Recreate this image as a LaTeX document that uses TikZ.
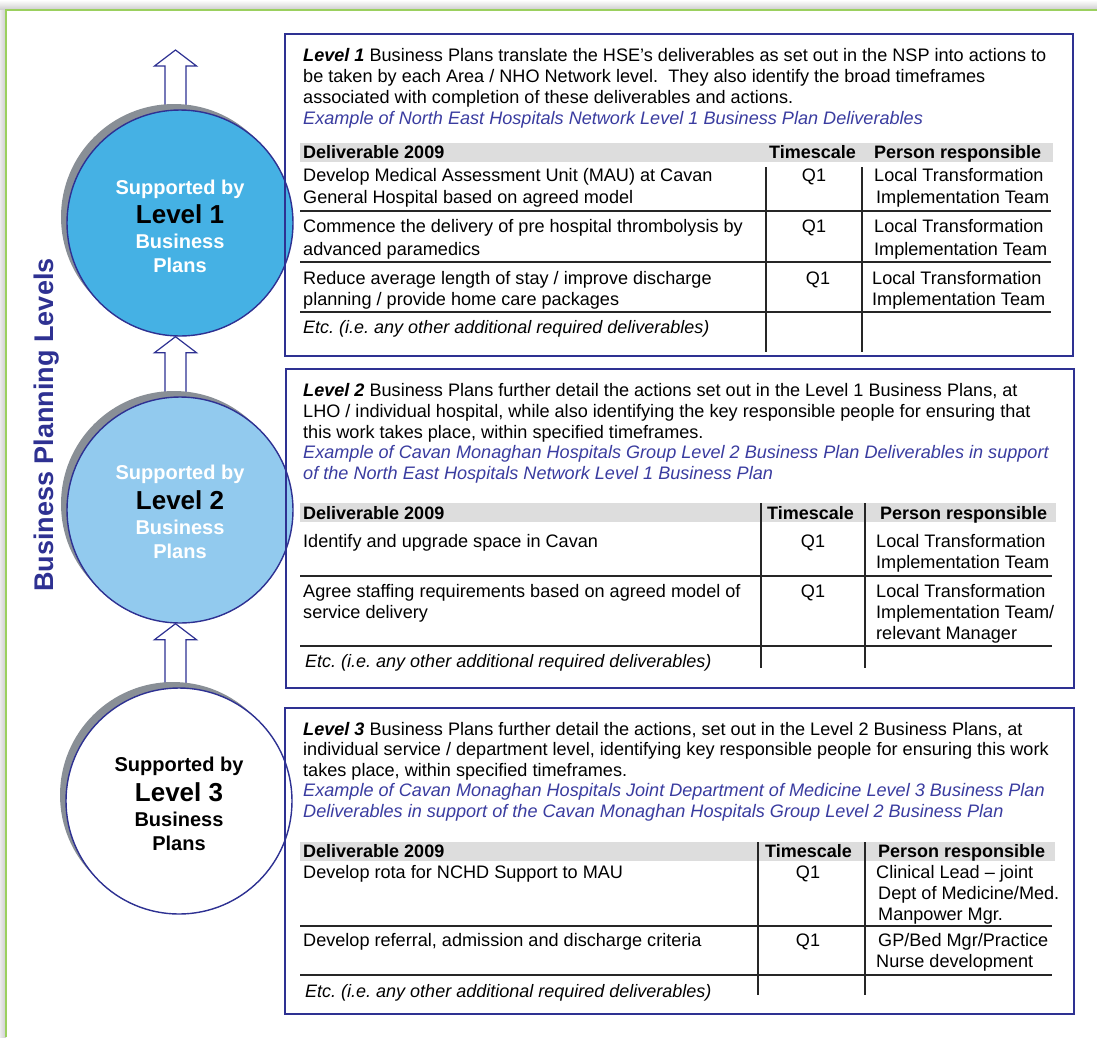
\documentclass[tikz,border=0pt]{standalone}
\usepackage{fontspec}
\setmainfont{Liberation Sans}
\usetikzlibrary{calc,backgrounds}
\pgfdeclarelayer{bg}
\pgfsetlayers{bg,background,main}
\frenchspacing

\definecolor{navy}{RGB}{46,49,146}
\definecolor{exblue}{RGB}{58,60,160}
\definecolor{blueA}{RGB}{69,177,228}
\definecolor{blueB}{RGB}{146,202,238}
\definecolor{shadowgray}{RGB}{137,143,150}
\definecolor{framegreen}{RGB}{155,208,95}
\definecolor{hdrgray}{RGB}{221,221,221}

% block arrow pointing up: #1 = tip, #2 = foot of the shaft (same x)
\newcommand\liftarrow[2]{%
  \draw[blk] (#1) -- ($(#1)+(21,16)$) -- ($(#1)+(10.5,16)$) -- ($(#2)+(10.5,0)$)
    -- ($(#2)+(-10.5,0)$) -- ($(#1)+(-10.5,16)$) -- ($(#1)+(-21,16)$) -- cycle;}

\begin{document}
\begin{tikzpicture}[x=1pt,y=-1pt,
  txt/.style={anchor=base west, inner sep=0pt, font=\fontsize{18.1}{21}\selectfont},
  txtc/.style={txt, anchor=base},
  hdr/.style={txt, font=\fontsize{18}{21}\selectfont\bfseries},
  extxt/.style={txt, font=\fontsize{18.1}{21}\selectfont\itshape, text=exblue},
  etc/.style={txt, font=\fontsize{18}{21}\selectfont\itshape},
  boxframe/.style={draw=navy, line width=1.6pt},
  tabrule/.style={draw=black!85, line width=1.2pt},
  hbar/.style={fill=hdrgray},
  lvl/.style={circle, draw=navy, line width=1.4pt, minimum size=226pt, inner sep=0pt},
  cshadow/.style={circle, fill=shadowgray, minimum size=226pt, inner sep=0pt},
  blk/.style={draw=navy, fill=white, line width=1.2pt, line join=miter},
  cw/.style={inner sep=0pt, anchor=base, font=\fontsize{20}{24}\selectfont\bfseries},
  cl/.style={inner sep=0pt, anchor=base, font=\fontsize{26}{30}\selectfont\bfseries},
]
\useasboundingbox (0,0) rectangle (1097,1037);

% page background with soft shadow and green frame
\begin{pgfonlayer}{bg}
  \fill[white] (0,0) rectangle (1097,1037);
  \shade[top color=white, bottom color=black!20] (0,0) rectangle (1097,10);
  \shade[left color=black!8, right color=black!20] (0,10) rectangle (6,1037);
  \draw[framegreen, line width=2.5pt] (6,1037) -- (6,10) -- (1097,10);
\end{pgfonlayer}

% vertical title
\node[rotate=90, text=navy, inner sep=0pt, font=\fontsize{27}{30}\selectfont\bfseries]
  (title) at (47,425) {Business Planning Levels};

% level circles with shadows
\node[cshadow] (s1) at (174,217) {};
\node[lvl, fill=blueA] (c1) at (180,223) {};
\node[cshadow] (s2) at (174,504) {};
\node[lvl, fill=blueB] (c2) at (180,510) {};
\node[cshadow] (s3) at (173,795) {};
\node[lvl, fill=white] (c3) at (179,801) {};

\node[cw, text=white] (c1a) at (180,194) {Supported by};
\node[cl]             (c1b) at (180,223) {Level 1};
\node[cw, text=white] (c1c) at (180,248) {Business};
\node[cw, text=white] (c1d) at (180,272) {Plans};

\node[cw, text=white] (c2a) at (180,479) {Supported by};
\node[cl]             (c2b) at (180,509) {Level 2};
\node[cw, text=white] (c2c) at (180,534) {Business};
\node[cw, text=white] (c2d) at (180,558) {Plans};

\node[cw] (c3a) at (179,771) {Supported by};
\node[cl] (c3b) at (179,801) {Level 3};
\node[cw] (c3c) at (179,826) {Business};
\node[cw] (c3d) at (179,850) {Plans};

% upward block arrows between the levels
\coordinate (ax) at (175.5,0);
\coordinate (t0) at (175.5,50);
\coordinate (b0) at (c1.north -| ax);
\coordinate (t1) at (c1.south -| ax);
\coordinate (b1) at (c2.north -| ax);
\coordinate (t2) at (c2.south -| ax);
\coordinate (b2) at (c3.north -| ax);
\begin{pgfonlayer}{background}
  \liftarrow{t0}{b0}
  \liftarrow{t1}{b1}
  \liftarrow{t2}{b2}
\end{pgfonlayer}

% ---------- Level 1 panel ----------
\draw[boxframe] (285,34) rectangle (1073,356);
\node[txt] (p1a) at (303,61) {\textbf{\textit{Level 1}} Business Plans translate the HSE’s deliverables as set out in the NSP into actions to};
\node[txt] (p1b) at (303,82) {be taken by each Area / NHO Network level.~ They also identify the broad timeframes};
\node[txt] (p1c) at (303,103) {associated with completion of these deliverables and actions.};
\node[extxt] (p1d) at (303,124) {Example of North East Hospitals Network Level 1 Business Plan Deliverables};

\fill[hbar] (300,143) rectangle (1053,162);
\draw[tabrule] (766,167) -- (766,352) (862,167) -- (862,352);
\draw[tabrule] (300,211) -- (1051,211) (300,262) -- (1051,262) (300,312) -- (1051,312);
\node[hdr] (h1a) at (303,158) {Deliverable 2009};
\node[hdr] (h1b) at (769,158) {Timescale};
\node[hdr] (h1c) at (874,158) {Person responsible};

\node[txt] (r11a) at (303,181) {Develop Medical Assessment Unit (MAU) at Cavan};
\node[txt] (r11b) at (303,203) {General Hospital based on agreed model};
\node[txtc] (r11q) at (814,181) {Q1};
\node[txt] (r11c) at (874,181) {Local Transformation};
\node[txt] (r11d) at (876,203) {Implementation Team};

\node[txt] (r12a) at (303,232) {Commence the delivery of pre hospital thrombolysis by};
\node[txt] (r12b) at (303,255) {advanced paramedics};
\node[txtc] (r12q) at (814,232) {Q1};
\node[txt] (r12c) at (874,232) {Local Transformation};
\node[txt] (r12d) at (874,255) {Implementation Team};

\node[txt] (r13a) at (303,284) {Reduce average length of stay / improve discharge};
\node[txt] (r13b) at (303,305) {planning / provide home care packages};
\node[txtc] (r13q) at (818,284) {Q1};
\node[txt] (r13c) at (872,284) {Local Transformation};
\node[txt] (r13d) at (872,305) {Implementation Team};

\node[etc] (r14) at (303,333) {Etc. (i.e. any other additional required deliverables)};

% ---------- Level 2 panel ----------
\draw[boxframe] (286,369) rectangle (1074,688);
\node[txt] (p2a) at (303,396) {\textbf{\textit{Level 2}} Business Plans further detail the actions set out in the Level 1 Business Plans, at};
\node[txt] (p2b) at (303,417) {LHO / individual hospital, while also identifying the key responsible people for ensuring that};
\node[txt] (p2c) at (303,438) {this work takes place, within specified timeframes.};
\node[extxt] (p2d) at (303,458) {Example of Cavan Monaghan Hospitals Group Level 2 Business Plan Deliverables in support};
\node[extxt] (p2e) at (303,479) {of the North East Hospitals Network Level 1 Business Plan};

\fill[hbar] (300,503) rectangle (1056,522);
\draw[tabrule] (761,503) -- (761,668) (865,503) -- (865,668);
\draw[tabrule] (300,576) -- (1052,576) (300,646) -- (1052,646);
\node[hdr] (h2a) at (303,519) {Deliverable 2009};
\node[hdr] (h2b) at (767,519) {Timescale};
\node[hdr] (h2c) at (880,519) {Person responsible};

\node[txt] (r21a) at (303,547) {Identify and upgrade space in Cavan};
\node[txtc] (r21q) at (813,547) {Q1};
\node[txt] (r21c) at (876,547) {Local Transformation};
\node[txt] (r21d) at (876,568) {Implementation Team};

\node[txt] (r22a) at (303,597) {Agree staffing requirements based on agreed model of};
\node[txt] (r22b) at (303,618) {service delivery};
\node[txtc] (r22q) at (813,597) {Q1};
\node[txt] (r22c) at (876,597) {Local Transformation};
\node[txt] (r22d) at (876,618) {Implementation Team/};
\node[txt] (r22e) at (876,639) {relevant Manager};

\node[etc] (r23) at (305,667) {Etc. (i.e. any other additional required deliverables)};

% ---------- Level 3 panel ----------
\draw[boxframe] (285,708) rectangle (1074,1014);
\node[txt] (p3a) at (303,735) {\textbf{\textit{Level 3}} Business Plans further detail the actions, set out in the Level 2 Business Plans, at};
\node[txt] (p3b) at (303,755) {individual service / department level, identifying key responsible people for ensuring this work};
\node[txt] (p3c) at (303,776) {takes place, within specified timeframes.};
\node[extxt] (p3d) at (303,796) {Example of Cavan Monaghan Hospitals Joint Department of Medicine Level 3 Business Plan};
\node[extxt] (p3e) at (303,817) {Deliverables in support of the Cavan Monaghan Hospitals Group Level 2 Business Plan};

\fill[hbar] (300,842) rectangle (1055,861);
\draw[tabrule] (758,842) -- (758,995) (865,842) -- (865,995);
\draw[tabrule] (300,926) -- (1052,926) (300,975) -- (1052,975);
\node[hdr] (h3a) at (303,857) {Deliverable 2009};
\node[hdr] (h3b) at (765,857) {Timescale};
\node[hdr] (h3c) at (878,857) {Person responsible};

\node[txt] (r31a) at (303,878) {Develop rota for NCHD Support to MAU};
\node[txtc] (r31q) at (808,878) {Q1};
\node[txt] (r31c) at (876,878) {Clinical Lead – joint};
\node[txt] (r31d) at (878,899) {Dept of Medicine/Med.};
\node[txt] (r31e) at (878,920) {Manpower Mgr.};

\node[txt] (r32a) at (303,946) {Develop referral, admission and discharge criteria};
\node[txtc] (r32q) at (808,946) {Q1};
\node[txt] (r32c) at (878,946) {GP/Bed Mgr/Practice};
\node[txt] (r32d) at (876,967) {Nurse development};

\node[etc] (r33) at (305,997) {Etc. (i.e. any other additional required deliverables)};
\end{tikzpicture}
\end{document}
